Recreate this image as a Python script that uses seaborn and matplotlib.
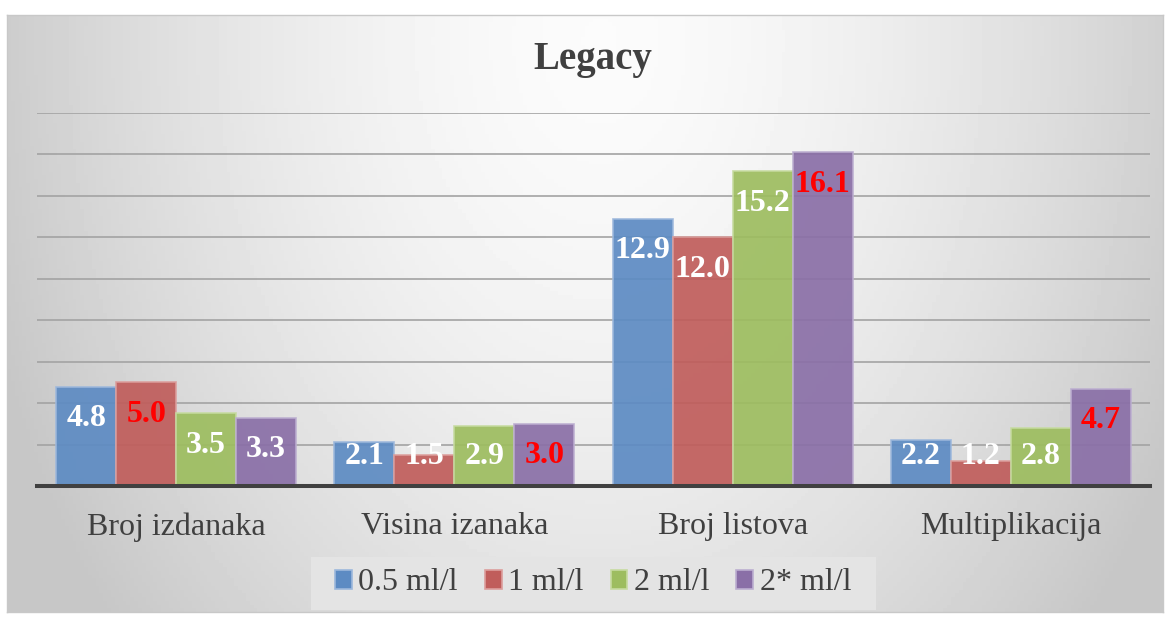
import numpy as np
import pandas as pd
import matplotlib
matplotlib.use("Agg")
import matplotlib.pyplot as plt
import seaborn as sns
from matplotlib.patches import Patch, Rectangle

categories = ["Broj izdanaka", "Visina izanaka", "Broj listova", "Multiplikacija"]
series = ["0.5 ml/l", "1 ml/l", "2 ml/l", "2* ml/l"]
v_05 = [4.8, 2.1, 12.9, 2.2]
v_1 = [5.0, 1.5, 12.0, 1.2]
v_2 = [3.5, 2.9, 15.2, 2.8]
v_2s = [3.3, 3.0, 16.1, 4.7]
colors = ["#5d8bc3", "#c05d5b", "#9dbd5f", "#8a6fa7"]
edge_colors = ["#9db8dc", "#dc9e9c", "#c6dba0", "#bcaed0"]

values = [v_05, v_1, v_2, v_2s]
df = pd.DataFrame({
    "category": [c for s in series for c in categories],
    "series": [s for s in series for _ in categories],
    "value": [v for vals in values for v in vals],
})

sns.set_theme(style="white")
plt.rcParams["font.family"] = ["Liberation Serif", "DejaVu Serif"]

W, H = 1169, 619
fig = plt.figure(figsize=(W / 100, H / 100), dpi=100)
fig.patch.set_facecolor("white")

# background gradient chart area
x0, x1, y0, y1 = 7, 1163, 15, 612
bg = fig.add_axes([x0 / W, 1 - y1 / H, (x1 - x0) / W, (y1 - y0) / H])
gx = np.linspace(x0, x1, 300)
gy = np.linspace(y0, y1, 160)
GX, GY = np.meshgrid(gx, gy)
r = np.sqrt(((GX - 600) / 640) ** 2 + ((GY - 40) / 900) ** 2)
r = np.clip(r, 0, 1)
light, dark = 0.985, 0.78
img = light - (light - dark) * r ** 1.6
bg.imshow(img, cmap="gray", vmin=0, vmax=1, aspect="auto", extent=[0, 1, 0, 1], origin="upper")
bg.set_xticks([]); bg.set_yticks([])
for s in bg.spines.values():
    s.set_color("#c8c8c8"); s.set_linewidth(1)
bg.set_zorder(0)

ax = fig.add_axes([37 / W, 1 - 486 / H, (1150 - 37) / W, (486 - 113) / H])
ax.set_zorder(1)
ax.patch.set_alpha(0)

sns.barplot(data=df, x="category", y="value", hue="series", order=categories,
            hue_order=series, palette=colors, width=0.862, gap=0, saturation=1,
            ax=ax, legend=False, zorder=3, alpha=0.92)

for cont, ec in zip(ax.containers, edge_colors):
    for bar in cont:
        bar.set_edgecolor(ec)
        bar.set_linewidth(1.2)

ax.set_ylim(0, 18)
ax.set_xlim(-0.5, 3.5)
ax.set_yticks(np.arange(0, 19, 2))
ax.set_axisbelow(True)
ax.yaxis.grid(True, color="#a3a3a3", linewidth=1.2)
ax.set_yticklabels([])
ax.tick_params(axis="y", length=0)
ax.tick_params(axis="x", length=0, pad=19, labelsize=23, labelcolor="#404040")
ax.set_xlabel(""); ax.set_ylabel("")
for k in ["left", "right", "top"]:
    ax.spines[k].set_visible(False)
ax.spines["bottom"].set_color("#404040")
ax.spines["bottom"].set_linewidth(2.9)
ax.spines["bottom"].set_zorder(5)

group_max = [max(vals[i] for vals in values) for i in range(len(categories))]
for cont in ax.containers:
    for i, bar in enumerate(cont):
        h = bar.get_height()
        xc = bar.get_x() + bar.get_width() / 2
        yc = max(h - 1.55, 1.4)
        col = "#ff0000" if h == group_max[i] else "white"
        ax.text(xc, yc, f"{h:.1f}", ha="center", va="center", fontsize=23,
                fontweight="bold", color=col, zorder=6)

fig.text(593 / W, 1 - 60 / H, "Legacy", ha="center", va="center", fontsize=28,
         fontweight="bold", color="#404040")

# legend box
lx0, lx1, ly0, ly1 = 311, 876, 557, 610
fig.patches.append(Rectangle((lx0 / W, 1 - ly1 / H), (lx1 - lx0) / W, (ly1 - ly0) / H,
                             transform=fig.transFigure, facecolor="#e4e4e4",
                             edgecolor="none", zorder=1))

handles = [Patch(facecolor=c, edgecolor=e, linewidth=1.2) for c, e in zip(colors, edge_colors)]
leg = fig.legend(handles, series, loc="center", bbox_to_anchor=(593 / W, 1 - 583 / H),
                 ncol=4, fontsize=23, frameon=False,
                 handlelength=0.53, handleheight=0.53, handletextpad=0.2,
                 columnspacing=0.85, borderpad=0.2)
leg.set_zorder(2)
for t in leg.get_texts():
    t.set_color("#404040")

fig.savefig("out.png", dpi=100)
